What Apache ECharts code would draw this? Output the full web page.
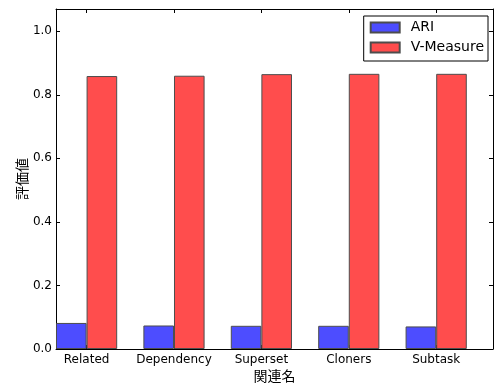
<!DOCTYPE html>
<html>
<head>
<meta charset="utf-8">
<script src="https://cdn.jsdelivr.net/npm/echarts@6/dist/echarts.min.js"></script>
<style>
html,body{margin:0;padding:0;background:#fff;}
#chart{width:494px;height:385px;}
</style>
</head>
<body>
<div id="chart"></div>
<script>
var categories = ['Related', 'Dependency', 'Superset', 'Cloners', 'Subtask'];
var ariValues = [0.082, 0.074, 0.073, 0.073, 0.071];
var vMeasureValues = [0.859, 0.860, 0.865, 0.866, 0.866];
var yTicks = [0, 0.2, 0.4, 0.6, 0.8, 1.0];

var chart = echarts.init(document.getElementById('chart'));
var font = 'DejaVu Sans';
var cjk = '"Noto Sans CJK JP", "DejaVu Sans"';
var tickPos = categories.map(function (c, i) { return i; });

function mkData(vals) {
  return vals.map(function (v, i) { return [i, v]; });
}

chart.setOption({
  animation: false,
  backgroundColor: '#fff',
  grid: { left: 56, right: 1, top: 9, bottom: 36, containLabel: false, outerBoundsMode: 'none' },
  legend: {
    orient: 'vertical',
    right: 6,
    top: 16,
    padding: [4, 4, 6, 6],
    itemGap: 5,
    itemWidth: 29,
    itemHeight: 10,
    icon: 'rect',
    borderColor: '#000',
    borderWidth: 1,
    borderRadius: 0,
    backgroundColor: '#fff',
    textStyle: { fontFamily: font, fontSize: 14, color: '#000', lineHeight: 15, padding: [0, 0, 0, 6] },
    data: ['ARI', 'V-Measure']
  },
  xAxis: [
    {
      type: 'value', position: 'bottom', min: -0.35, max: 4.65,
      axisLine: { show: true, onZero: false, lineStyle: { color: '#000', width: 1 } },
      axisTick: { show: true, inside: true, length: 4, customValues: tickPos, lineStyle: { color: '#000' } },
      axisLabel: {
        customValues: tickPos, margin: 5, fontFamily: font, fontSize: 12, color: '#000',
        formatter: function (v) { return categories[Math.round(v)]; }
      },
      splitLine: { show: false },
      name: '関連名', nameLocation: 'middle', nameGap: 20, nameMoveOverlap: false,
      nameTextStyle: { fontFamily: cjk, fontSize: 14, color: '#000' }
    },
    {
      type: 'value', position: 'top', min: -0.35, max: 4.65,
      axisLine: { show: true, onZero: false, lineStyle: { color: '#000', width: 1 } },
      axisTick: { show: true, inside: true, length: 4, customValues: tickPos, lineStyle: { color: '#000' } },
      axisLabel: { show: false },
      splitLine: { show: false }
    }
  ],
  yAxis: [
    {
      type: 'value', position: 'left', min: 0, max: 1.07, interval: 0.2,
      axisLine: { show: true, onZero: false, lineStyle: { color: '#000', width: 1 } },
      axisTick: { show: true, inside: true, length: 4, customValues: yTicks, lineStyle: { color: '#000' } },
      axisLabel: {
        customValues: yTicks, margin: 4, fontFamily: font, fontSize: 12, color: '#000',
        formatter: function (v) { return v.toFixed(1); }
      },
      splitLine: { show: false },
      name: '評価値', nameLocation: 'middle', nameGap: 27, nameRotate: 90, nameMoveOverlap: false,
      nameTextStyle: { fontFamily: cjk, fontSize: 14, color: '#000' }
    },
    {
      type: 'value', position: 'right', min: 0, max: 1.07, interval: 0.2,
      axisLine: { show: true, onZero: false, lineStyle: { color: '#000', width: 1 } },
      axisTick: { show: true, inside: true, length: 4, customValues: yTicks, lineStyle: { color: '#000' } },
      axisLabel: { show: false },
      splitLine: { show: false }
    }
  ],
  series: [
    {
      name: 'ARI', type: 'bar', xAxisIndex: 0, yAxisIndex: 0,
      barWidth: 30.6, barGap: '0%',
      itemStyle: { color: '#4d4dff', borderColor: '#4d4d4d', borderWidth: 1 },
      data: mkData(ariValues)
    },
    {
      name: 'V-Measure', type: 'bar', xAxisIndex: 0, yAxisIndex: 0,
      barWidth: 30.6, barGap: '0%',
      itemStyle: { color: '#ff4d4d', borderColor: '#4d4d4d', borderWidth: 1 },
      data: mkData(vMeasureValues)
    }
  ]
});
</script>
</body>
</html>
